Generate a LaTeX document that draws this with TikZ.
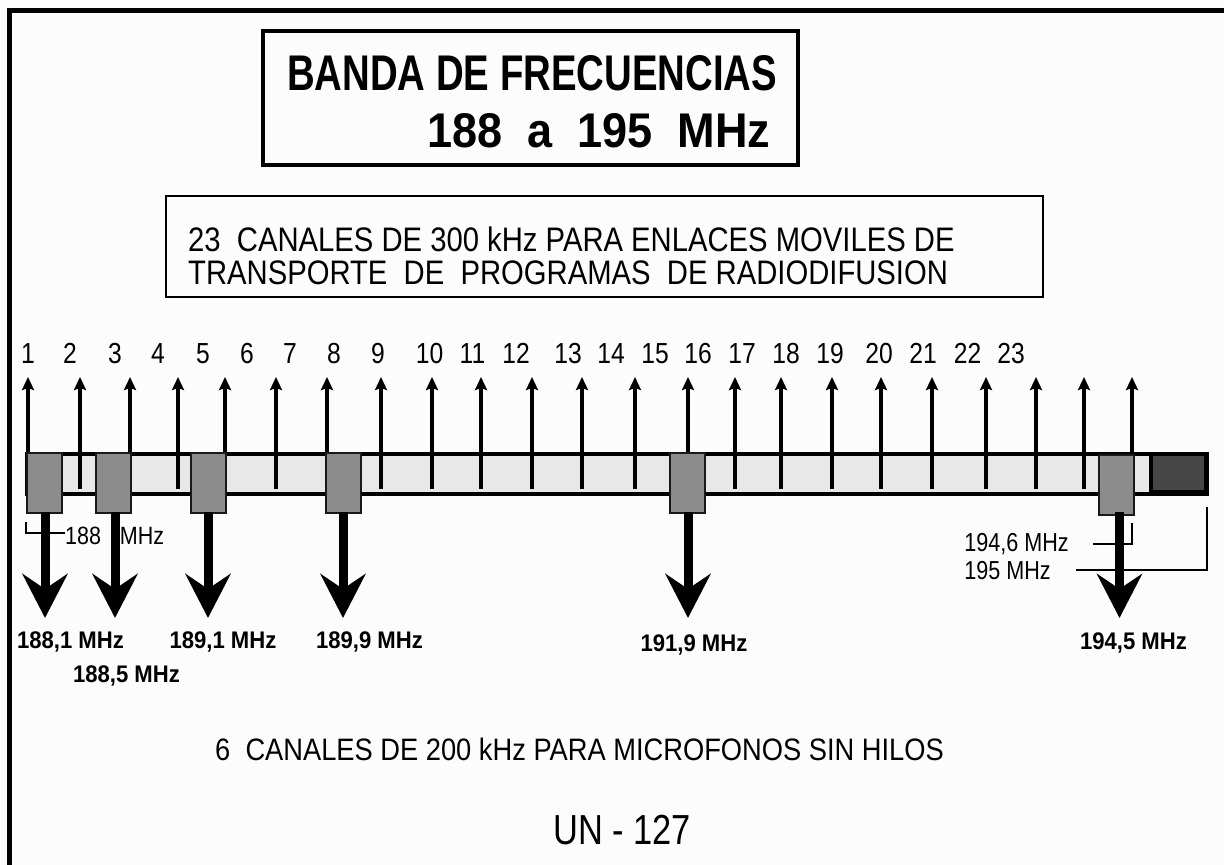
\documentclass[tikz,border=0pt]{standalone}
\usepackage{fontspec}
\setmainfont{Liberation Sans}
\usepackage{graphicx}
\usetikzlibrary{arrows.meta}
\definecolor{bg}{RGB}{252,252,252}
\definecolor{bandgray}{RGB}{232,232,232}
\definecolor{boxgray}{RGB}{140,140,140}
\definecolor{endgray}{RGB}{71,71,71}
\newcommand{\cx}[2]{\scalebox{#1}[1]{#2}}
\begin{document}
\begin{tikzpicture}[x=1pt,y=-1pt,
  upar/.style={line width=3.4pt,-{Stealth[length=13pt,width=12pt,inset=2pt]}},
  downar/.style={line width=9pt,-{Stealth[length=44pt,width=45pt,inset=15pt]}},
  chbox/.style={draw=black!90,line width=2pt,fill=boxgray,minimum width=35pt,minimum height=60pt,inner sep=0pt},
  num/.style={font=\fontsize{29}{29}\selectfont,inner sep=0pt,anchor=base},
  freq/.style={font=\bfseries\fontsize{24}{24}\selectfont,inner sep=0pt,anchor=base},
  lbl/.style={font=\fontsize{26}{26}\selectfont,inner sep=0pt},
  txt/.style={inner sep=0pt,anchor=base west},
  bracket/.style={line width=1.5pt}
]
\fill[bg] (0,0) rectangle (1224,865);
\useasboundingbox (0,0) rectangle (1224,865);
% frame (open at right and bottom)
\draw[line width=5pt] (9.5,865) -- (9.5,10.5) -- (1224,10.5);
% title box
\draw[line width=4pt] (263,31) rectangle (798,165);
\node[txt] (t1) at (287,90) {\resizebox{490pt}{35pt}{\bfseries BANDA DE FRECUENCIAS}};
\node[txt] (t2) at (427,147) {\resizebox{343pt}{34pt}{\bfseries 188\ \ a\ \ 195\ \ MHz}};
% subtitle box
\draw[line width=2pt] (166,196) rectangle (1043,297);
\node[txt,font=\fontsize{34}{34}\selectfont] (s1) at (188,251) {\cx{0.86}{23\ \ CANALES DE 300 kHz PARA ENLACES MOVILES DE}};
\node[txt,font=\fontsize{34}{34}\selectfont] (s2) at (188,284) {\cx{0.86}{TRANSPORTE\ \ DE\ \ PROGRAMAS\ \ DE RADIODIFUSION}};
% band
\draw[line width=4pt,fill=bandgray] (27,453.5) rectangle (1151,493.5);
\fill[black] (1149,452) rectangle (1209,495.5);
\fill[endgray] (1153,456) rectangle (1204,490);
% channel arrows
\foreach \x [count=\i] in {28,80,130,178,225,276,327,381,432,481,532,582,635,688,735,781,832,881,932,986,1036,1084,1132}{
  \coordinate (ub\i) at (\x,489);
  \coordinate (ut\i) at (\x,377);
  \draw[upar] (ub\i) -- (ut\i);
}
% channel numbers
\foreach \x [count=\i] in {28,70,115,158,203,247,290,334,378,429.5,472.5,516,568,611,655,698,742,786,830,879,923,967.5,1011}{
  \node[num] (n\i) at (\x,363) {\cx{0.85}{\i}};
}
% microphone channel boxes
\node[chbox] (b1) at (44,482.5) {};
\node[chbox] (b3) at (113,483) {};
\node[chbox] (b5) at (208.5,483) {};
\node[chbox] (b8) at (343.5,483) {};
\node[chbox] (b16) at (687.5,482.5) {};
\node[chbox] (b23) at (1116,484.5) {};
% brackets
\coordinate (k1a) at (26,522); \coordinate (k1b) at (65,533);
\draw[bracket] (k1a) |- (k1b);
\node[lbl,anchor=base west,font=\fontsize{25}{25}\selectfont] (l188) at (65,544) {\cx{0.86}{188\hspace{22pt}MHz}};
\coordinate (k2a) at (1132,523); \coordinate (k2b) at (1093,544);
\draw[bracket] (k2a) |- (k2b);
\node[lbl,anchor=base east] (l1946) at (1069,551) {\cx{0.83}{194,6 MHz}};
\coordinate (k3a) at (1207,507); \coordinate (k3b) at (1076,570);
\draw[bracket] (k3a) |- (k3b);
\node[lbl,anchor=base east] (l195) at (1051,579) {\cx{0.83}{195 MHz}};
% down arrows
\foreach \n/\x in {1/45,3/115,5/208,8/343,16/688,23/1119.5}{
  \coordinate (ds\n) at (\x,512);
  \coordinate (de\n) at (\x,618);
  \draw[downar] (ds\n) -- (de\n);
}
% frequency labels
\node[freq] (f1) at (70.5,648) {\cx{0.92}{188,1 MHz}};
\node[freq] (f3) at (126.5,682) {\cx{0.92}{188,5 MHz}};
\node[freq] (f5) at (223,648) {\cx{0.92}{189,1 MHz}};
\node[freq] (f8) at (369.5,648) {\cx{0.92}{189,9 MHz}};
\node[freq] (f16) at (694,651) {\cx{0.92}{191,9 MHz}};
\node[freq] (f23) at (1133.5,649) {\cx{0.92}{194,5 MHz}};
% bottom texts
\node[txt,font=\fontsize{31}{31}\selectfont] (m1) at (215,760) {\cx{0.88}{6\ \ CANALES DE 200 kHz PARA MICROFONOS SIN HILOS}};
\node[txt,font=\fontsize{42}{42}\selectfont] (un) at (553,844) {\cx{0.82}{UN - 127}};
\end{tikzpicture}
\end{document}
